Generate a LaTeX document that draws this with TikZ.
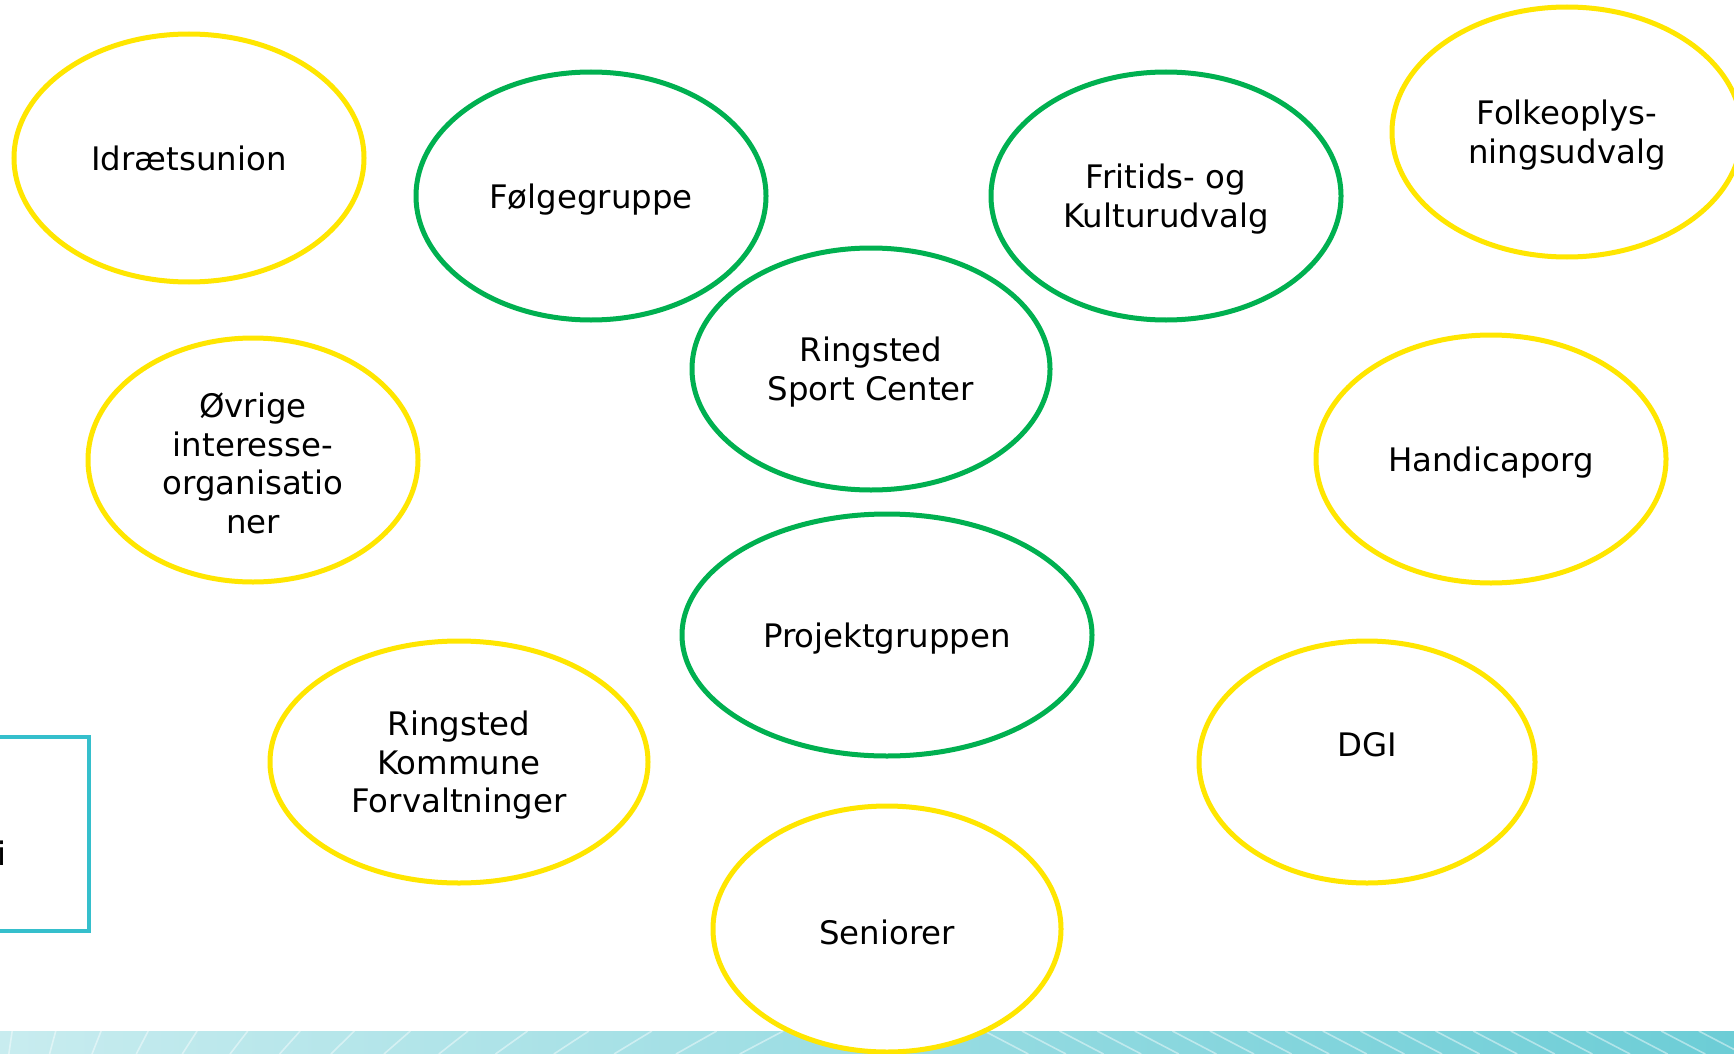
\documentclass[tikz,border=0pt]{standalone}
\usepackage{fontspec}
\setmainfont{DejaVu Sans}
\usetikzlibrary{shapes.geometric}
\definecolor{ylw}{HTML}{FFE600}
\definecolor{grn}{HTML}{00B050}
\definecolor{tealbox}{HTML}{35BFCC}
\definecolor{bandL}{HTML}{C8ECEF}
\definecolor{bandR}{HTML}{6CCDD6}
\begin{document}
\begin{tikzpicture}[x=0.5pt,y=-0.5pt,
  ell/.style={ellipse, draw, line width=2.5pt, fill=white, inner sep=0pt},
  yell/.style={ell, draw=ylw},
  gell/.style={ell, draw=grn},
  txt/.style={font=\fontsize{16.2}{19.3}\selectfont, align=center, inner sep=0pt, yshift=-1.6pt},
  hatch/.style={white, opacity=0.45, line width=0.8pt}]
\clip (0,0) rectangle (1734,1054);
\fill[white] (0,0) rectangle (1734,1054);
% bottom band
\fill[left color=bandL, right color=bandR] (0,1031) rectangle (1734,1054);
\foreach \i in {0,...,14}{
  \pgfmathsetmacro{\b}{(8+36*\i+0.8*\i*\i)*1.106}
  \pgfmathsetmacro{\s}{(3+2.6*\i)*1.106}
  \draw[hatch] (\b,1054) -- (\b+\s,1031);
}
\foreach \i in {0,...,20}{
  \pgfmathsetmacro{\b}{(890+34*\i)*1.106}
  \draw[hatch] (\b,1031) -- (\b+44,1054);
}
% cyan box at left
\node[draw=tealbox, line width=2pt, minimum width=55pt, minimum height=97pt, inner sep=0pt] (box) at (34,834) {};
\node[anchor=base east, inner sep=0pt, font=\fontsize{16.2}{19.3}\selectfont] (boxtext) at (7,865) {i};
% ellipses
\node[yell, minimum width=175pt, minimum height=124pt, label={[txt, yshift=1.6pt]center:Idrætsunion}] (idr) at (189,158) {};
\node[gell, minimum width=175pt, minimum height=124pt, label={[txt]center:Følgegruppe}] (folg) at (591,196) {};
\node[gell, minimum width=175pt, minimum height=124pt, label={[txt]center:Fritids- og\\Kulturudvalg}] (frit) at (1166,196) {};
\node[yell, minimum width=175pt, minimum height=125pt, label={[txt]center:Folkeoplys-\\ningsudvalg}] (folk) at (1567,132) {};
\node[gell, minimum width=179pt, minimum height=121pt, label={[txt]center:Ringsted\\Sport Center}] (rsc) at (871,369) {};
\node[yell, minimum width=165pt, minimum height=122pt, label={[txt]center:Øvrige\\interesse-\\organisatio\\ner}] (ovr) at (253,460) {};
\node[yell, minimum width=175pt, minimum height=124pt, label={[txt]center:Handicaporg}] (hand) at (1491,459) {};
\node[gell, minimum width=205pt, minimum height=121pt, label={[txt]center:Projektgruppen}] (proj) at (887,635) {};
\node[yell, minimum width=189pt, minimum height=121pt, label={[txt]center:Ringsted\\Kommune\\Forvaltninger}] (rkf) at (459,762) {};
\node[yell, minimum width=168pt, minimum height=121pt, label={[txt, yshift=10.1pt]center:DGI}] (dgi) at (1367,762) {};
\node[yell, minimum width=174pt, minimum height=123pt, label={[txt]center:Seniorer}] (sen) at (887,929) {};
\end{tikzpicture}
\end{document}
